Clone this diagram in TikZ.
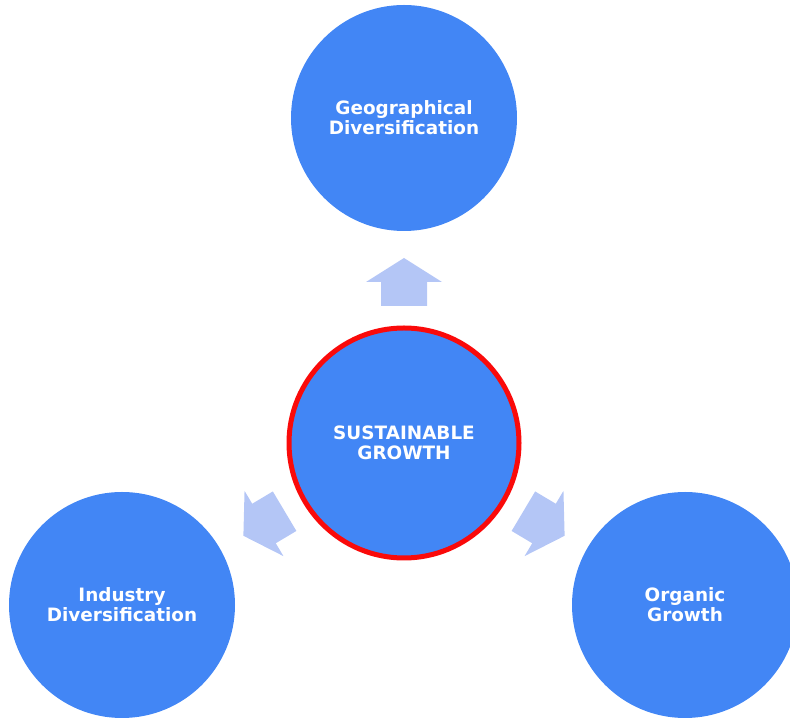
\documentclass[tikz,border=0pt]{standalone}
\usepackage{fontspec}
\setmainfont{DejaVu Sans}
\usepackage{tikz}
\usetikzlibrary{positioning}
\definecolor{sgblue}{RGB}{66,134,245}
\definecolor{sgarrow}{RGB}{180,198,246}
\definecolor{sgred}{RGB}{250,10,10}
\tikzstyle{goal} = [circle, minimum size=226pt, inner sep=0pt, fill=sgblue, text=white, align=center, font=\bfseries\fontsize{18.4}{20}\selectfont]
\tikzstyle{core} = [goal, minimum size=230pt, draw=sgred, line width=5pt]
\tikzstyle{blockarrow} = [fill=sgarrow]
% block arrow: centre of head base, direction
\newcommand{\growarrow}[2]{%
  \fill[blockarrow, shift={#1}, rotate=#2] (-24,-23) -- (0,-23) -- (0,-38) -- (24,0) -- (0,38) -- (0,23) -- (-24,23) -- cycle;}

\begin{document}
\begin{tikzpicture}[x=1pt, y=1pt]
\useasboundingbox (0,0) rectangle (790,722);
% the four circles
\node[goal] (geo) at (404,604) {Geographical\\Diversification};
\node[core] (sg) at (404,279) {SUSTAINABLE\\GROWTH};
\node[goal] (ind) at (122,117) {Industry\\Diversification};
\node[goal] (org) at (685,117) {Organic\\Growth};
% arrows out of the centre
\growarrow{(404,440)}{90}
\growarrow{(264,198.5)}{210.8}
\growarrow{(544,198.5)}{-30.8}
\end{tikzpicture}
\end{document}
